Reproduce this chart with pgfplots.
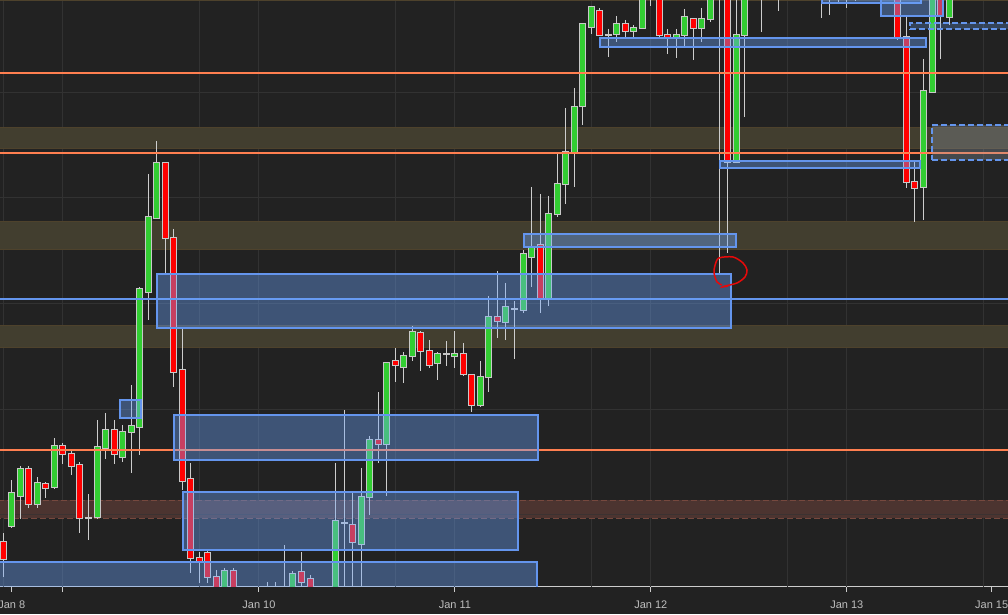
\documentclass[border=0pt]{standalone}
\usepackage{pgfplots}
\pgfplotsset{compat=1.18}
\usepackage{pgfplotstable}
\usepackage{fontspec}
\setmainfont{Liberation Sans}

\definecolor{bgc}{RGB}{34,34,34}
\definecolor{gridc}{RGB}{50,50,50}
\definecolor{olivec}{RGB}{66,62,47}
\definecolor{oliveedge}{RGB}{78,66,44}
\definecolor{zonec}{RGB}{76,52,48}
\definecolor{zoneedge}{RGB}{118,72,62}
\definecolor{orangec}{RGB}{255,127,80}
\definecolor{bluec}{RGB}{100,149,237}
\definecolor{boxfill}{RGB}{108,166,255}
\definecolor{grayfill}{RGB}{150,160,175}
\definecolor{upc}{RGB}{50,205,50}
\definecolor{downc}{RGB}{255,0,0}
\definecolor{wickc}{RGB}{205,205,205}
\definecolor{bordc}{RGB}{200,200,200}
\definecolor{axisc}{RGB}{205,205,205}
\definecolor{labelc}{RGB}{190,190,190}
\definecolor{markc}{RGB}{230,10,10}

% hourly candles: x = candle index, y = price (chart units)
\pgfplotstableread{
x o h l c
1 60 106 58 93
2 90 120 67 117
4 82 109 78 103
6 99 148 97 140
11 69 166 67 139
12 138 173 127 156
14 129 161 124 154
15 154 201 113 160
16 159 299 131 297
17 294 412 266 369
18 368 445 368 423
26 -6 18 -12 15
28 -25 -5 -30 -10
30 -28 -10 -35 -15
31 -15 4 -20 -8
33 -18 41 -22 -6
34 -5 15 -10 12
38 -20 -2 -28 -6
39 -14 123 -18 65
42 42 118 -4 89
43 89 150 71 146
45 142 224 90 223
47 219 234 203 230
48 230 260 225 254
51 223 234 206 232
53 230 255 218 232
56 181 225 179 209
57 209 290 194 269
59 264 303 246 279
61 276 336 273 332
62 329 399 299 339
64 288 390 280 372
65 372 432 369 402
66 402 478 382 434
67 434 498 399 479
68 480 562 461 562
69 559 580 552 579
72 552 570 544 562
74 555 561 549 558
75 558 594 558 589
76 590 605 580 600
79 549 557 528 551
80 551 577 539 569
82 558 578 544 567
83 567 596 564 591
86 424 600 424 551
87 551 605 469 600
88 600 620 596 615
90 600 618 592 612
91 612 625 575 620
93 610 624 602 618
95 606 620 598 614
97 598 612 571 608
100 592 606 585 600
101 600 616 594 612
103 604 620 600 616
104 616 630 606 624
108 399 527 366 495
109 494 600 494 596
111 569 600 561 596
113 592 610 590 604
114 604 618 600 612
116 606 620 600 614
}\greens

\pgfplotstableread{
x o h l c
0 44 53 9 27
3 117 120 78 82
5 102 104 88 98
7 140 143 122 132
8 132 136 111 120
9 121 124 53 68
13 156 166 122 132
19 423 423 313 348
20 348 357 199 214
21 216 257 96 105
22 107 123 13 28
23 28 34 3 25
24 33 35 3 9
25 9 16 -12 -6
27 15 18 -12 -6
29 -12 -8 -32 -28
32 -8 4 -25 -18
35 14 34 -8 4
36 7 11 -15 -8
37 -8 -4 -25 -20
41 61 93 -4 44
44 146 194 123 142
46 225 238 204 221
49 253 255 215 235
50 235 246 218 221
54 232 243 210 212
55 211 211 174 181
58 269 315 248 265
63 341 392 273 287
70 575 578 551 551
73 562 566 549 555
77 591 596 548 551
78 551 557 532 549
81 567 567 526 558
84 610 615 311 596
85 600 605 333 424
89 615 622 554 600
92 620 626 600 610
94 618 622 600 606
96 614 618 568 598
98 608 612 584 596
99 596 604 578 592
102 612 618 598 604
105 624 630 546 549
106 549 569 398 404
107 404 426 364 398
110 596 600 527 570
112 600 608 588 592
115 612 616 600 606
117 614 618 602 608
}\reds

\pgfplotstableread{
x o h l c
10 68 92 46 68
40 63 176 -10 63
52 232 245 220 232
60 277 285 227 277
71 551 557 529 551
}\dojis

\newcommand\wicks[1]{%
\addplot[draw=none, forget plot, error bars/.cd, y dir=minus, y explicit, error mark=none,
  error bar style={draw=wickc, line width=1pt, solid}]
  table[x=x, y=h, y error minus expr={\thisrow{h}-\thisrow{l}}] {#1};}
\newcommand\borders[1]{%
\addplot[draw=none, forget plot, error bars/.cd, y dir=minus, y explicit, error mark=none,
  error bar style={draw=bordc, line width=7pt, solid}]
  table[x=x, y expr={max(\thisrow{o},\thisrow{c})+1}, y error minus expr={abs(\thisrow{o}-\thisrow{c})+2}] {#1};}
\newcommand\bodies[2]{%
\addplot[draw=none, forget plot, error bars/.cd, y dir=minus, y explicit, error mark=none,
  error bar style={draw=#2, line width=5pt, solid}]
  table[x=x, y expr={max(\thisrow{o},\thisrow{c})}, y error minus expr={abs(\thisrow{o}-\thisrow{c})}] {#1};}
\newcommand\rect[5]{\addplot[forget plot, #5] coordinates {(#1,#2) (#3,#2) (#3,#4) (#1,#4)} --cycle;}
\newcommand\levelline[2]{\addplot[forget plot, #2] coordinates {(-2,#1) (120,#1)};}

\begin{document}
\begin{tikzpicture}
\useasboundingbox (0,-28pt) rectangle (1008pt,586pt);
\fill[bgc] (0,-28pt) rectangle (1008pt,586pt);
\begin{axis}[
  at={(0,0)}, anchor=south west,
  scale only axis, width=1008pt, height=586pt,
  xmin=-0.387, xmax=117.92, ymin=0, ymax=586,
  axis y line=none, axis x line*=bottom,
  x axis line style={-, draw=axisc, line width=1pt},
  xtick={1,7,30,53,76,99,116},
  xticklabels={Jan 8,,Jan 10,Jan 11,Jan 12,Jan 13,Jan 15},
  xtick align=outside, major tick length=6pt,
  tick style={draw=axisc, line width=1pt},
  xticklabel style={font=\fontsize{11}{13}\selectfont, text=labelc, yshift=-5pt},
  clip=true,
]
% grid
\pgfplotsinvokeforeach{0,7,23,30,46,53,69,76,92,99,115}{
  \addplot[forget plot, gridc, line width=1pt] coordinates {(#1,-10) (#1,600)};}
\pgfplotsinvokeforeach{493,388,283,177,72}{
  \addplot[forget plot, gridc, line width=1pt] coordinates {(-2,#1) (120,#1)};}
% zones
\rect{-2}{437}{120}{458}{fill=olivec, draw=oliveedge, line width=1pt}
\rect{-2}{337}{120}{364}{fill=olivec, draw=oliveedge, line width=1pt}
\rect{-2}{239}{120}{261}{fill=olivec, draw=oliveedge, line width=1pt}
\rect{-2}{585}{120}{600}{fill=olivec, draw=oliveedge, line width=1pt}
\rect{-2}{68}{120}{86}{fill=zonec, draw=zoneedge, line width=1pt, dash pattern=on 6pt off 3pt}
\levelline{72}{gridc, line width=1pt, opacity=0.6}
% candles
\wicks{\greens}\wicks{\reds}\wicks{\dojis}
\borders{\greens}\borders{\reds}\borders{\dojis}
\bodies{\greens}{upc}\bodies{\reds}{downc}
% levels
\levelline{513}{orangec, line width=2pt}
\levelline{433}{orangec, line width=2pt}
\levelline{136}{orangec, line width=2pt}
\levelline{287}{bluec, line width=2pt}
% boxes
\rect{18.04}{258}{85.41}{312}{draw=bluec, line width=2pt, fill=boxfill, fill opacity=0.38}
\rect{20.04}{126}{62.76}{171}{draw=bluec, line width=2pt, fill=boxfill, fill opacity=0.38}
\rect{21.09}{36}{60.41}{94}{draw=bluec, line width=2pt, fill=boxfill, fill opacity=0.38}
\rect{-1}{-6}{62.64}{24}{draw=bluec, line width=2pt, fill=boxfill, fill opacity=0.38}
\rect{13.70}{168}{16.17}{186}{draw=bluec, line width=2pt, fill=boxfill, fill opacity=0.38}
\rect{61.11}{339}{86.00}{352}{draw=bluec, line width=2pt, fill=boxfill, fill opacity=0.38}
\rect{70.04}{539}{108.30}{548}{draw=bluec, line width=2pt, fill=boxfill, fill opacity=0.38}
\rect{84.12}{418}{107.59}{425}{draw=bluec, line width=2pt, fill=boxfill, fill opacity=0.38}
\rect{96.09}{583}{107.71}{600}{draw=bluec, line width=2pt, fill=boxfill, fill opacity=0.38}
\rect{103.02}{570}{110.29}{600}{draw=bluec, line width=2pt, fill=boxfill, fill opacity=0.38}
\rect{106.42}{557}{120}{563}{draw=bluec, line width=2pt, fill=boxfill, fill opacity=0.25, dash pattern=on 6pt off 3pt}
\rect{109.00}{426}{120}{461}{draw=bluec, line width=2pt, fill=grayfill, fill opacity=0.3, dash pattern=on 6pt off 3pt}
% hand-drawn mark
\addplot[forget plot, smooth, markc, line width=1.5pt] coordinates {
 (84.35,301) (83.77,304) (83.42,313) (83.54,321) (84.00,328) (85.65,329) (86.82,323)
 (87.29,316) (87.05,309) (86.11,303) (84.71,300) (84.40,299) (85.06,300)};
\end{axis}
\end{tikzpicture}
\end{document}
